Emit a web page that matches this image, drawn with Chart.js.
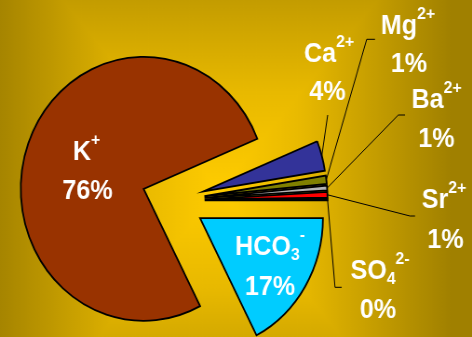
<!DOCTYPE html>
<html>
<head>
<meta charset="utf-8">
<script src="https://cdn.jsdelivr.net/npm/chart.js@4.4.1/dist/chart.umd.min.js"></script>
<style>
  html, body { margin: 0; padding: 0; overflow: hidden; background: #a08000; }
  /* the drawing is laid out on a 507px-wide canvas and narrowed to 472px on screen */
  #wrap { width: 507px; height: 337px; transform: scaleX(0.93097); transform-origin: 0 0; }
  canvas { display: block; }
</style>
</head>
<body>
<div id="wrap"><canvas id="ions" width="507" height="337"></canvas></div>
<script>
// Ion composition (% share), listed clockwise from 3 o'clock
const categories = ['HCO₃⁻', 'K⁺', 'Ca²⁺', 'Mg²⁺', 'Ba²⁺', 'Sr²⁺', 'SO₄²⁻'];
const shares     = [17.4, 76.4, 3.7, 1.0, 0.6, 0.7, 0.2];

const sliceColors = ['#00CCFF', '#993300', '#333399', '#808000', '#B4B4B4', '#FF0000', '#000000'];

// horizontal squeeze applied to the canvas by CSS
const SX = 472 / 507;

// label anchors in screen pixels: [centre x, baseline y] for the ion name and the percentage
const labelSpots = [
  { name: [270, 255],   value: [270, 295] },
  { name: [86.5, 160],  value: [87.5, 199] },
  { name: [329, 62],    value: [327.5, 100] },
  { name: [408, 33.5],  value: [409, 71.7] },
  { name: [436.5, 108.3], value: [436.5, 146.7] },
  { name: [444, 208.3], value: [445.5, 248.3] },
  { name: [380, 279],   value: [378, 318] }
];
// leader lines: bend point and end of the short horizontal tick (screen pixels)
const leaders = [
  null,
  null,
  { bend: [327.7, 115] },
  { bend: [366.7, 39.3], end: [375, 39.3] },
  { bend: [398.3, 115], end: [405, 115] },
  { bend: [410, 216], end: [415, 216] },
  { bend: [335, 287.3], end: [341.7, 287.3] }
];

// gold backdrop, bright in the middle and darkening towards the edges
const backdrop = {
  id: 'backdrop',
  beforeDraw(chart) {
    const ctx = chart.ctx, W = chart.width, H = chart.height;
    const cx = 220 / SX, cy = 190, a = 232 / SX, b = 280;
    const stops = g => { g.addColorStop(0, '#FFCC00'); g.addColorStop(0.35, '#E8B900'); g.addColorStop(1, '#A08000'); return g; };
    ctx.save();
    let g = stops(ctx.createLinearGradient(0, cy, 0, cy - b));
    ctx.fillStyle = g; ctx.fillRect(0, 0, W, cy);
    g = stops(ctx.createLinearGradient(0, cy, 0, cy + b));
    ctx.fillStyle = g; ctx.fillRect(0, cy - 0.5, W, H - cy + 0.5);
    const k = 4;
    [-1, 1].forEach(side => {
      const gr = stops(ctx.createLinearGradient(cx, 0, cx + side * a, 0));
      ctx.fillStyle = gr;
      ctx.beginPath();
      ctx.moveTo(cx, cy);
      ctx.lineTo(cx + side * a * k, cy - b * k);
      ctx.lineTo(cx + side * a * k, cy + b * k);
      ctx.closePath();
      ctx.fill();
    });
    ctx.restore();
  }
};

// pull every slice away from the centre along its own bisector
const explode = {
  id: 'explode',
  afterDatasetUpdate(chart, args, opts) {
    const { left, right, top, bottom } = chart.chartArea;
    const cx = (left + right) / 2, cy = (top + bottom) / 2;
    args.meta.data.forEach(arc => {
      const mid = (arc.startAngle + arc.endAngle) / 2;
      arc.x = cx + opts.distance * Math.cos(mid);
      arc.y = cy + opts.distance * Math.sin(mid);
    });
  }
};

// ion names with raised / lowered charge and index characters
const SUP = { '⁺': '+', '⁻': '-', '²': '2' };
const SUB = { '₃': '3', '₄': '4' };
function drawRich(ctx, text, cxPage, base, size) {
  const family = '"Liberation Sans", Arial, sans-serif';
  const small = Math.round(size * 0.63);
  const runs = [...text].map(ch =>
    SUP[ch] ? { t: SUP[ch], s: small, dy: -size * 0.55 } :
    SUB[ch] ? { t: SUB[ch], s: small, dy: size * 0.17 } :
              { t: ch, s: size, dy: 0 });
  let width = 0;
  runs.forEach(r => { ctx.font = `bold ${r.s}px ${family}`; r.w = ctx.measureText(r.t).width; width += r.w; });
  let x = cxPage / SX - width / 2;
  runs.forEach(r => {
    ctx.font = `bold ${r.s}px ${family}`;
    ctx.fillText(r.t, x, base + r.dy);
    x += r.w;
  });
}

const ionLabels = {
  id: 'ionLabels',
  afterDatasetsDraw(chart) {
    const ctx = chart.ctx;
    const arcs = chart.getDatasetMeta(0).data;
    ctx.save();
    ctx.strokeStyle = '#000';
    ctx.lineWidth = 1;
    arcs.forEach((arc, i) => {
      const ld = leaders[i];
      if (!ld) return;
      const mid = (arc.startAngle + arc.endAngle) / 2;
      ctx.beginPath();
      ctx.moveTo(arc.x + arc.outerRadius * Math.cos(mid), arc.y + arc.outerRadius * Math.sin(mid));
      ctx.lineTo(ld.bend[0] / SX, ld.bend[1]);
      if (ld.end) ctx.lineTo(ld.end[0] / SX, ld.end[1]);
      ctx.stroke();
    });
    ctx.fillStyle = '#FFFFFF';
    ctx.textBaseline = 'alphabetic';
    ctx.textAlign = 'left';
    categories.forEach((name, i) => {
      const spot = labelSpots[i];
      drawRich(ctx, name, spot.name[0], spot.name[1], 27);
      drawRich(ctx, Math.round(shares[i]) + '%', spot.value[0], spot.value[1], 27);
    });
    ctx.restore();
  }
};

new Chart(document.getElementById('ions'), {
  type: 'pie',
  data: {
    labels: categories,
    datasets: [{
      data: shares,
      backgroundColor: sliceColors,
      borderColor: '#000000',
      borderWidth: 1.8,
      borderJoinStyle: 'miter',
      offset: 0
    }]
  },
  options: {
    responsive: false,
    animation: false,
    devicePixelRatio: 1,
    rotation: 90,
    radius: 132,
    layout: { padding: { left: 0, right: 135, top: 64, bottom: 0 } },
    events: [],
    plugins: {
      legend: { display: false },
      tooltip: { enabled: false },
      explode: { distance: 33.8 }
    }
  },
  plugins: [backdrop, explode, ionLabels]
});
</script>
</body>
</html>
